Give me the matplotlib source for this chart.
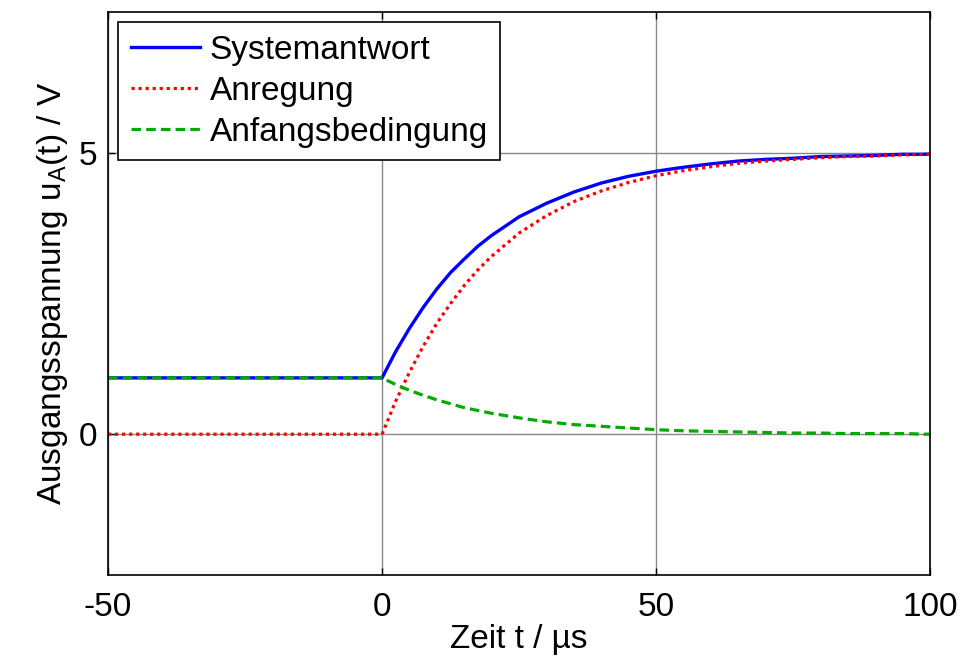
import matplotlib
matplotlib.use("Agg")
import matplotlib.pyplot as plt

# Time axis (µs)
t = [-50, 0, 2.5, 5, 7.5, 10, 12.5, 15, 17.5, 20, 25, 30, 35, 40, 45, 50,
     55, 60, 65, 70, 75, 80, 85, 90, 95, 100]

systemantwort = [1.0, 1.0, 1.47, 1.88, 2.25, 2.58, 2.87, 3.11, 3.34, 3.53,
                 3.86, 4.10, 4.30, 4.46, 4.58, 4.67, 4.74, 4.80, 4.85,
                 4.88, 4.90, 4.93, 4.94, 4.95, 4.97, 4.97]
anregung = [0.0, 0.0, 0.59, 1.10, 1.56, 1.97, 2.32, 2.64, 2.92, 3.16,
            3.57, 3.88, 4.13, 4.32, 4.47, 4.59, 4.68, 4.75, 4.81,
            4.85, 4.88, 4.91, 4.93, 4.94, 4.96, 4.97]
anfangsbedingung = [1.0, 1.0, 0.88, 0.78, 0.69, 0.61, 0.54, 0.47, 0.42, 0.37,
                    0.29, 0.22, 0.17, 0.14, 0.11, 0.08, 0.06, 0.05, 0.04,
                    0.03, 0.02, 0.02, 0.01, 0.01, 0.01, 0.0]

xticks = [-50, 0, 50, 100]
yticks = [0, 5]

plt.rcParams['font.family'] = ['Liberation Sans', 'DejaVu Sans']
plt.rcParams['mathtext.default'] = 'regular'

FS = 24

fig = plt.figure(figsize=(9.73, 6.56), dpi=100)
ax = fig.add_axes([0.111, 0.1235, 0.845, 0.8585])

ax.plot(t, systemantwort, color='#0000ff', lw=2.4, ls='-', label='Systemantwort')
ax.plot(t, anregung, color='#ff0000', lw=2.3, ls=(0, (1, 1.2)), label='Anregung')
ax.plot(t, anfangsbedingung, color='#00aa00', lw=2.3, ls=(0, (3, 1.6)), label='Anfangsbedingung')

ax.set_xlim(-50, 100)
ax.set_ylim(-2.5, 7.5)
ax.set_xticks(xticks)
ax.set_yticks(yticks)
ax.set_xticklabels([str(v) for v in xticks])
ax.set_yticklabels([str(v) for v in yticks])
ax.tick_params(direction='in', top=True, right=True, labelsize=FS, length=5,
               width=1)
ax.tick_params(axis='x', pad=12)
ax.tick_params(axis='y', pad=8)
ax.grid(True, color='#888888', lw=1, ls='-')
ax.set_axisbelow(True)
for s in ax.spines.values():
    s.set_linewidth(1.2)
    s.set_color('black')

ax.set_xlabel('Zeit t / µs', fontsize=FS, labelpad=1)
ax.set_ylabel('Ausgangsspannung u$_{A}$(t) / V', fontsize=FS, labelpad=6)

leg = ax.legend(loc='upper left', bbox_to_anchor=(0.012, 0.982), borderaxespad=0,
                fontsize=FS, frameon=True, fancybox=False, edgecolor='black',
                framealpha=1, handlelength=2.07, handletextpad=0.3,
                labelspacing=0.3, borderpad=0.38)
leg.get_frame().set_linewidth(1.2)

fig.savefig('out.png', dpi=100)
